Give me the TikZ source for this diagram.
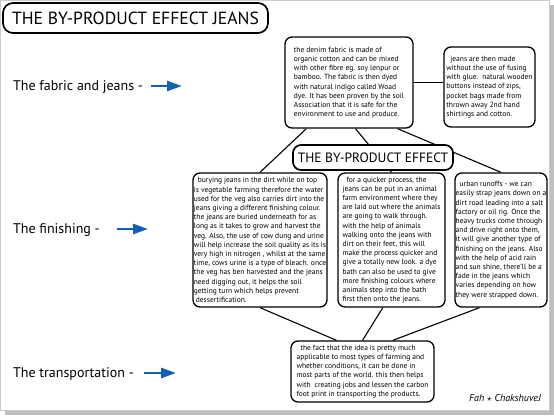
\documentclass[tikz,border=0pt]{standalone}
\usepackage{fontspec}
\setmainfont{PT Sans}
\usetikzlibrary{calc,arrows.meta}
\definecolor{arrowblue}{RGB}{18,96,180}
\begin{document}
\begin{tikzpicture}[x=1pt,y=-1pt,
    infobox/.style={draw,line width=1.3pt,rounded corners=7pt,fill=white,align=left,inner sep=0pt,font=\fontsize{7.5}{9.2}\selectfont},
    titlebox/.style={draw,line width=1.7pt,rounded corners=10pt,fill=white,inner sep=0pt},
    stage/.style={anchor=base west,inner sep=0pt,font=\fontsize{14}{16}\selectfont},
    pointer/.style={arrowblue,line width=2.6pt,-{Triangle[length=15pt,width=10pt]}},
    link/.style={line width=1.1pt}]
        \useasboundingbox (0,0) rectangle (554,415);
        %% frame
        \fill[gray!50] (5,410) rectangle (554,415);
        \fill[gray!50] (549,5) rectangle (554,415);
        \draw[gray!40,line width=0.6pt] (0.3,0.3) rectangle (549,410);
        %% Title
        \node[titlebox,minimum width=265pt,minimum height=30pt,font=\fontsize{17.6}{20}\selectfont] (Title) at (135.5,18) {THE BY-PRODUCT EFFECT JEANS};
        %% Stages
        \node[stage] (Sfab) at (13,90) {The fabric and jeans -};
        \node[stage] (Sfin) at (13,233) {The finishing -};
        \node[stage] (Stra) at (13,377) {The transportation -};
        \coordinate (Pfab) at (151,86);
        \coordinate (Pfin) at (117,229);
        \coordinate (Ptra) at (144,373);
        \draw[pointer] (Pfab) -- ++(31,0);
        \draw[pointer] (Pfin) -- ++(31,0);
        \draw[pointer] (Ptra) -- ++(32,0);
        %% Boxes
        \node[infobox,minimum width=128pt,minimum height=91pt] (Fab) at (349,82.5) {the denim fabric is made of\\
organic cotton and can be mixed\\
with other fibre eg. soy lenpur or\\
bamboo. The fabric is then dyed\\
with natural indigo called Woad\\
dye. It has been proven by the soil\\
Association that it is safe for the\\
environment to use and produce.};
        \node[infobox,minimum width=91pt,minimum height=80pt] (Make) at (489.5,87) {\hspace*{4pt}jeans are then made\\
without the use of fusing\\
with glue.\ \ natural wooden\\
buttons instead of zips,\\
pocket bags made from\\
thrown away 2nd hand\\
shirtings and cotton.};
        \node[infobox,minimum width=134pt,minimum height=134pt] (Bury) at (260,240) {\hspace*{4pt}burying jeans in the dirt while on top\\
is vegetable farming therefore the water\\
used for the veg also carries dirt into the\\
jeans giving a different finishing colour.\\
the jeans are buried underneath for as\\
long as it takes to grow and harvest the\\
veg. Also, the use of cow dung and urine\\
will help increase the soil quality as its is\\
very high in nitrogen , whilst at the same\\
time, cows urine is a type of bleach. once\\
the veg has ben harvested and the jeans\\
need digging out, it helps the soil\\
getting turn which helps prevent\\
\hspace*{2pt}dessertification.};
        \node[infobox,minimum width=107pt,minimum height=134pt] (Farm) at (391.5,240) {\hspace*{4pt}for a quicker process, the\\
jeans can be put in an animal\\
farm environment where they\\
are laid out where the animals\\
are going to walk through.\\
with the help of animals\\
walking onto the jeans with\\
dirt on their feet, this will\\
make the process quicker and\\
give a totally new look. a dye\\
bath can also be used to give\\
more finishing colours where\\
animals step into the bath\\
first then onto the jeans.};
        \node[infobox,minimum width=92pt,minimum height=134pt] (Road) at (501,240) {\hspace*{4pt}urban runoffs - we can\\
easily strap jeans down on a\\
dirt road leading into a salt\\
factory or oil rig. Once the\\
heavy trucks come through\\
and drive right onto them,\\
it will give another type of\\
finishing on the jeans. Also\\
with the help of acid rain\\
and sun shine, there'll be a\\
fade in the jeans which\\
varies depending on how\\
they were strapped down.};
        \node[infobox,minimum width=143pt,minimum height=61pt] (Trans) at (362.5,371.5) {\hspace*{4pt}the fact that the idea is pretty much\\
applicable to most types of farming and\\
whether conditions, it can be done in\\
most parts of the world. this then helps\\
with\ \ creating jobs and lessen the carbon\\
foot print in transporting the products.};
        %% Links
        \draw[link] (Fab.east) -- (Fab.east -| Make.west);
        \draw[link] ($(Fab.south west)!0.17!(Fab.south east)$) -- (Bury.north);
        \draw[link] ($(Fab.south west)!0.55!(Fab.south east)$) -- (Farm.north);
        \draw[link] ($(Fab.south west)!0.875!(Fab.south east)$) -- (Road.north);
        \draw[link] (Bury.south) -- ($(Trans.north west)!0.32!(Trans.north east)$);
        \draw[link] ($(Farm.south west)!0.42!(Farm.south east)$) -- (Trans.north);
        \draw[link] ($(Road.south west)!0.27!(Road.south east)$) -- ($(Trans.north west)!0.71!(Trans.north east)$);
        %% Effect label
        \node[titlebox,rounded corners=8pt,minimum width=160pt,minimum height=25pt,font=\fontsize{13.5}{16}\selectfont] (Effect) at (373,157.5) {THE BY-PRODUCT EFFECT};
        %% Signature
        \node[font=\fontsize{10}{12}\selectfont\itshape] (Sign) at (505,398) {Fah $\star$ ChakshuveJ};
    \end{tikzpicture}
\end{document}
